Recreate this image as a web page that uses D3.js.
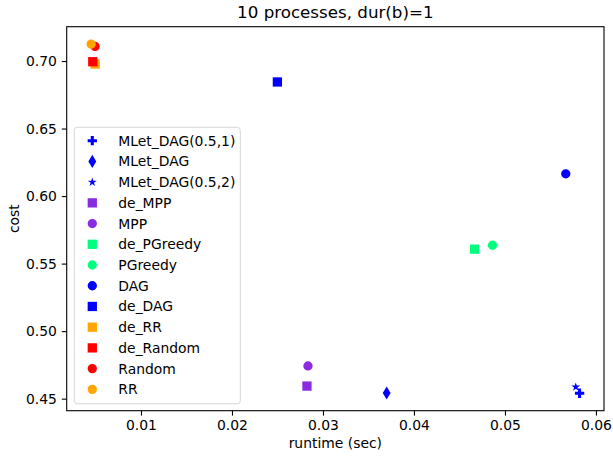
<!DOCTYPE html>
<html>
<head>
<meta charset="utf-8">
<script src="https://cdn.jsdelivr.net/npm/d3@7"></script>
<style>
  body { margin: 0; background: #fff; }
  text { font-family: "DejaVu Sans", sans-serif; fill: #000; }
</style>
</head>
<body>
<script>
// DATA (plot order = legend order)
const methods = ["MLet_DAG(0.5,1)", "MLet_DAG", "MLet_DAG(0.5,2)", "de_MPP", "MPP",
  "de_PGreedy", "PGreedy", "DAG", "de_DAG", "de_RR", "de_Random", "Random", "RR"];
const runtime = [0.0582, 0.0370, 0.05778, 0.02824, 0.02835,
  0.04666, 0.04863, 0.05668, 0.02499, 0.00496, 0.0047, 0.00496, 0.00452];
const cost = [0.4540, 0.4542, 0.4586, 0.4593, 0.4742,
  0.5607, 0.5636, 0.6165, 0.6845, 0.6978, 0.6995, 0.7108, 0.7125];
const xTicks = [0.01, 0.02, 0.03, 0.04, 0.05, 0.06];
const yTicks = [0.45, 0.50, 0.55, 0.60, 0.65, 0.70];

// styles
const colors = ["#0000ff", "#0000ff", "#0000ff", "#8a2be2", "#8a2be2",
  "#00ff7f", "#00ff7f", "#0000ff", "#0000ff", "#ffa500", "#ff0000", "#ff0000", "#ffa500"];
const markers = ["P", "d", "*", "s", "o", "s", "o", "o", "s", "s", "s", "o", "o"];

const W = 613, H = 460;
const margin = {top: 26.7, right: 9, bottom: 49.3, left: 66.7};
const ms = 9.3;
const fs = "13.9px";

const svg = d3.select("body").append("svg").attr("width", W).attr("height", H);

// matplotlib-like 5% margins
const pad = (e) => { const r = e[1] - e[0]; return [e[0] - r * 0.05, e[1] + r * 0.05]; };
const x = d3.scaleLinear().domain(pad(d3.extent(runtime))).range([margin.left, W - margin.right]);
const y = d3.scaleLinear().domain(pad(d3.extent(cost))).range([H - margin.bottom, margin.top]);

function markerPath(m) {
  const h = ms / 2;
  if (m === "o") return d3.symbol(d3.symbolCircle, Math.PI * h * h)();
  if (m === "s") return `M${-h},${-h}H${h}V${h}H${-h}Z`;
  if (m === "d") { const a = 0.707 * ms; return `M0,${-a}L${0.6 * a},0L0,${a}L${-0.6 * a},0Z`; }
  if (m === "P") {
    const p = [[-1,-3],[-1,-1],[-3,-1],[-3,1],[-1,1],[-1,3],[1,3],[1,1],[3,1],[3,-1],[1,-1],[1,-3]];
    return "M" + p.map(d => [d[0] * ms / 6, d[1] * ms / 6].join(",")).join("L") + "Z";
  }
  if (m === "*") {
    const pts = [];
    for (let i = 0; i < 10; i++) {
      const r = i % 2 === 0 ? h : h * 0.381966;
      const a = Math.PI * i / 5;
      pts.push([r * Math.sin(a), -r * Math.cos(a)]);
    }
    return "M" + pts.map(d => d.join(",")).join("L") + "Z";
  }
}

// axes
const xAxis = svg.append("g")
  .attr("transform", `translate(0,${H - margin.bottom})`)
  .call(d3.axisBottom(x).tickValues(xTicks).tickFormat(d3.format(".2f")).tickSize(4.9).tickPadding(4.9));
const yAxis = svg.append("g")
  .attr("transform", `translate(${margin.left},0)`)
  .call(d3.axisLeft(y).tickValues(yTicks).tickFormat(d3.format(".2f")).tickSize(4.9).tickPadding(4.9));
[xAxis, yAxis].forEach(g => {
  g.select(".domain").remove();
  g.selectAll("text").style("font-size", fs).style("font-family", "DejaVu Sans");
  g.selectAll("line").attr("stroke", "#000").attr("stroke-width", 1.1);
});

// points
svg.append("g").selectAll("path").data(methods)
  .join("path")
  .attr("transform", (d, i) => `translate(${x(runtime[i])},${y(cost[i])})`)
  .attr("d", (d, i) => markerPath(markers[i]))
  .attr("fill", (d, i) => colors[i]);

// frame
svg.append("rect")
  .attr("x", margin.left).attr("y", margin.top)
  .attr("width", W - margin.left - margin.right)
  .attr("height", H - margin.top - margin.bottom)
  .attr("fill", "none").attr("stroke", "#000").attr("stroke-width", 1.1);

// legend
const leg = svg.append("g");
leg.append("rect")
  .attr("x", 74.3).attr("y", 127.3).attr("width", 166).attr("height", 276.5)
  .attr("rx", 3).attr("fill", "#fff").attr("fill-opacity", 0.8)
  .attr("stroke", "#d6d6d6").attr("stroke-width", 1);
const rows = leg.selectAll("g.row").data(methods).join("g")
  .attr("transform", (d, i) => `translate(92.3,${140.7 + i * 20.72})`);
rows.append("path")
  .attr("d", (d, i) => markerPath(markers[i]))
  .attr("fill", (d, i) => colors[i]);
rows.append("text")
  .attr("x", 26).attr("dy", "0.36em")
  .style("font-size", fs)
  .text(d => d);

// labels
svg.append("text").attr("x", (margin.left + W - margin.right) / 2).attr("y", 18)
  .attr("text-anchor", "middle").style("font-size", "16.7px")
  .text("10 processes, dur(b)=1");
svg.append("text").attr("x", (margin.left + W - margin.right) / 2).attr("y", 448)
  .attr("text-anchor", "middle").style("font-size", fs)
  .text("runtime (sec)");
svg.append("text")
  .attr("transform", `translate(19,${(margin.top + H - margin.bottom) / 2}) rotate(-90)`)
  .attr("text-anchor", "middle").style("font-size", fs)
  .text("cost");
</script>
</body>
</html>
